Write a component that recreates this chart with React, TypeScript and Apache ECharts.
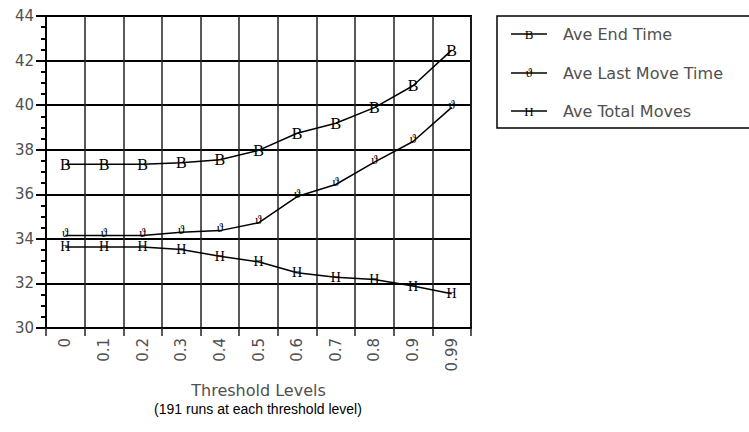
import React, { useEffect, useRef } from "react";
import * as echarts from "echarts";

const categories = ["0", "0.1", "0.2", "0.3", "0.4", "0.5", "0.6", "0.7", "0.8", "0.9", "0.99"];
const endTime = [37.35, 37.35, 37.35, 37.42, 37.55, 37.97, 38.74, 39.19, 39.89, 40.87, 42.47];
const lastMove = [34.15, 34.15, 34.15, 34.3, 34.37, 34.72, 35.9, 36.44, 37.44, 38.37, 39.9];
const totalMoves = [33.64, 33.64, 33.64, 33.52, 33.22, 32.97, 32.48, 32.28, 32.18, 31.88, 31.54];
const seriesNames = ["Ave End Time", "Ave Last Move Time", "Ave Total Moves"];
const markers = ["B", "\u03D1", "H"];
const seriesData = [endTime, lastMove, totalMoves];

const thinFont = "'DejaVu Sans', sans-serif";
const arialFont = "'Liberation Sans', Arial, sans-serif";
const serifFont = "'Liberation Serif', 'DejaVu Serif', serif";
const thinColor = "#505050";

export default function App() {
  const ref = useRef<HTMLDivElement>(null);
  useEffect(() => {
    if (!ref.current) return;
    const chart = echarts.init(ref.current, null, { renderer: "svg" });
    const legendY = [34, 73, 111];
    const legendGraphics: any[] = [
      {
        type: "rect",
        shape: { x: 497, y: 16, width: 270, height: 112 },
        style: { fill: "#fff", stroke: "#000", lineWidth: 1.5 },
      },
    ];
    seriesNames.forEach((name, i) => {
      legendGraphics.push({
        type: "line",
        shape: { x1: 511, y1: legendY[i], x2: 547, y2: legendY[i] },
        style: { stroke: "#000", lineWidth: 1.5 },
      });
      legendGraphics.push({
        type: "text",
        x: 529,
        y: legendY[i] + (i === 1 ? -1 : 0),
        z: 10,
        style: {
          text: markers[i],
          font: `13px ${serifFont}`,
          fill: "#000",
          align: "center",
          verticalAlign: "middle",
        },
      });
      legendGraphics.push({
        type: "text",
        x: 563,
        y: legendY[i],
        style: {
          text: name,
          font: `16px ${thinFont}`,
          fill: thinColor,
          align: "left",
          verticalAlign: "middle",
        },
      });
    });
    legendGraphics.push({
      type: "text",
      x: 258,
      y: 409,
      style: {
        text: "(191 runs at each threshold level)",
        font: `14px ${arialFont}`,
        fill: "#000",
        align: "center",
        verticalAlign: "middle",
      },
    });

    const labelSizes = [16, 13, 14];
    const labelOffsets = [[0, 0], [0, -3], [0, 0]];

    chart.setOption({
      animation: false,
      backgroundColor: "#fff",
      grid: {
        left: 46,
        top: 16,
        right: 278,
        bottom: 104,
        show: true,
        borderColor: "#000",
        borderWidth: 2,
        backgroundColor: "transparent",
      },
      xAxis: {
        type: "category",
        data: categories,
        boundaryGap: true,
        name: "Threshold Levels",
        nameLocation: "middle",
        nameGap: 54,
        nameTextStyle: { fontFamily: thinFont, fontSize: 16, color: thinColor },
        axisLine: { lineStyle: { color: "#000", width: 2 } },
        axisTick: { show: true, length: 8, lineStyle: { color: "#222", width: 1.5 } },
        axisLabel: {
          rotate: 90,
          margin: 10,
          fontFamily: thinFont,
          fontSize: 15,
          color: thinColor,
        },
        splitLine: { show: true, lineStyle: { color: "#222", width: 1.5 } },
      },
      yAxis: {
        type: "value",
        min: 30,
        max: 44,
        interval: 2,
        axisLine: { show: true, lineStyle: { color: "#000", width: 2 } },
        axisTick: { show: true, length: 10, lineStyle: { color: "#000", width: 2 } },
        minorTick: { show: true, splitNumber: 4, length: 5, lineStyle: { color: "#000", width: 2 } },
        axisLabel: { margin: 12, fontFamily: thinFont, fontSize: 15, color: thinColor },
        splitLine: { show: true, lineStyle: { color: "#000", width: 2 } },
      },
      series: seriesNames.map((name, i) => ({
        type: "line",
        name,
        data: seriesData[i],
        symbol: "circle",
        symbolSize: 1,
        itemStyle: { color: "rgba(0,0,0,0)" },
        lineStyle: { color: "#000", width: 1.5 },
        label: {
          show: true,
          position: "inside",
          offset: labelOffsets[i],
          formatter: markers[i],
          fontFamily: serifFont,
          fontSize: labelSizes[i],
          lineHeight: i === 0 ? 16 : 11,
          color: "#000",
          textBorderWidth: 0,
          textBorderColor: "transparent",
        },
        z: 3,
      })),
      graphic: legendGraphics,
    });
    return () => chart.dispose();
  }, []);
  return (
    <div
      ref={ref}
      style={{ position: "absolute", left: 0, top: 0, width: 749, height: 432 }}
    />
  );
}
